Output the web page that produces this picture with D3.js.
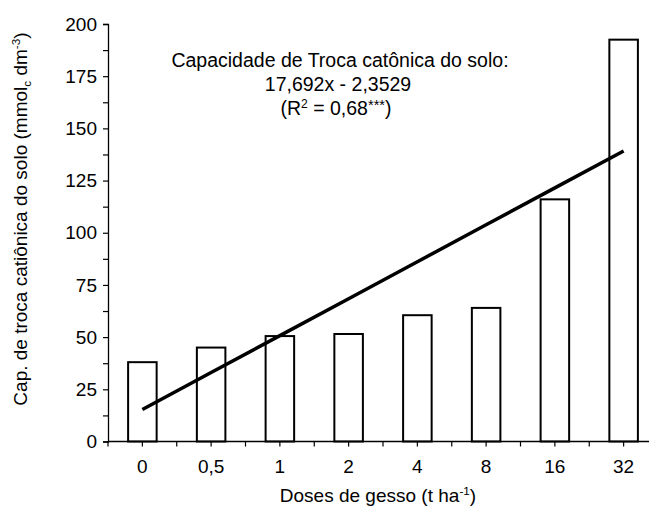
<!DOCTYPE html>
<html>
<head>
<meta charset="utf-8">
<script src="https://cdn.jsdelivr.net/npm/d3@7"></script>
<style>
  html, body { margin: 0; padding: 0; background: #fff; }
  svg { display: block; font-family: "Liberation Sans", Arial, sans-serif; }
</style>
</head>
<body>
<svg id="chart" width="649" height="510"></svg>
<script>
// ---- data ----
const categories = ["0", "0,5", "1", "2", "4", "8", "16", "32"];
const ctcValues = [38, 45, 50.5, 51.5, 60.5, 64, 116, 192.5];
const yTickValues = [0, 25, 50, 75, 100, 125, 150, 175, 200];
const trendSlope = 17.692;
const trendIntercept = -2.3529;
const annotationLines = ["Capacidade de Troca catônica do solo:", "17,692x - 2,3529"];

// ---- layout ----
const svg = d3.select("#chart");
const fontSize = 19;
const x0 = 108, x1 = 658, yTop = 24, yBottom = 441.5;

const x = d3.scaleBand().domain(categories).range([x0, x1])
  .paddingInner(0.585).paddingOuter(0.2925);
const y = d3.scaleLinear().domain([0, 200]).range([yBottom, yTop]);

// bars
svg.append("g").selectAll("rect").data(ctcValues).join("rect")
  .attr("x", (d, i) => x(categories[i]))
  .attr("y", d => y(d))
  .attr("width", x.bandwidth())
  .attr("height", d => y(0) - y(d))
  .attr("fill", "#fff").attr("stroke", "#000").attr("stroke-width", 2);

// trend line
const trendPts = categories.map((c, i) => [x(c) + x.bandwidth() / 2, y(trendSlope * (i + 1) + trendIntercept)]);
svg.append("path").attr("d", d3.line()(trendPts))
  .attr("fill", "none").attr("stroke", "#000").attr("stroke-width", 3.5);

// y axis
const yMinor = d3.range(0, 200.01, 12.5);
const yAxis = d3.axisLeft(y).tickValues(yMinor).tickSize(5).tickPadding(6)
  .tickFormat(d => yTickValues.includes(d) ? d3.format("d")(d) : "");
const gy = svg.append("g").attr("transform", `translate(${x0},0)`).call(yAxis);
gy.select(".domain").attr("stroke", "#000").attr("stroke-width", 1.3);
gy.selectAll(".tick line").attr("stroke", "#000").attr("stroke-width", 1.2);
gy.selectAll("text").attr("font-size", fontSize).attr("fill", "#000")
  .attr("font-family", "Liberation Sans, Arial, sans-serif");

// x axis (ticks at centers and at band boundaries)
const gx = svg.append("g").attr("transform", `translate(0,${yBottom})`);
gx.append("line").attr("x1", x0).attr("x2", x1).attr("y1", 0).attr("y2", 0)
  .attr("stroke", "#000").attr("stroke-width", 1.3);
const step = x.step();
const xTickPos = d3.range(0, categories.length * 2 + 1).map(k => x0 + k * step / 2);
gx.selectAll("line.tk").data(xTickPos).join("line").attr("class", "tk")
  .attr("x1", d => d).attr("x2", d => d).attr("y1", 0).attr("y2", 5)
  .attr("stroke", "#000").attr("stroke-width", 1.2);
gx.selectAll("text").data(categories).join("text")
  .attr("x", d => x(d) + x.bandwidth() / 2).attr("y", 31)
  .attr("text-anchor", "middle").attr("font-size", fontSize).attr("fill", "#000")
  .text(d => d);

// x title
const xt = svg.append("text").attr("x", 378).attr("y", 502)
  .attr("text-anchor", "middle").attr("font-size", fontSize).attr("fill", "#000");
xt.append("tspan").text("Doses de gesso (t ha");
xt.append("tspan").attr("dy", -7).attr("font-size", fontSize * 0.62).text("-1");
xt.append("tspan").attr("dy", 7).text(")");

// y title
const yt = svg.append("text").attr("transform", "translate(27,219) rotate(-90)")
  .attr("text-anchor", "middle").attr("font-size", fontSize).attr("fill", "#000");
yt.append("tspan").text("Cap. de troca catiônica do solo (mmol");
yt.append("tspan").attr("dy", 4).attr("font-size", fontSize * 0.62).text("c");
yt.append("tspan").attr("dy", -4).text(" dm");
yt.append("tspan").attr("dy", -7).attr("font-size", fontSize * 0.62).text("-3");
yt.append("tspan").attr("dy", 7).text(")");

// annotation
const ax = 340, aSize = 19.5;
svg.append("text").attr("x", ax).attr("y", 67).attr("text-anchor", "middle")
  .attr("font-size", aSize).attr("fill", "#000").text(annotationLines[0]);
svg.append("text").attr("x", ax - 2).attr("y", 91).attr("text-anchor", "middle")
  .attr("font-size", aSize).attr("fill", "#000").text(annotationLines[1]);
const r2 = svg.append("text").attr("x", ax - 4).attr("y", 115).attr("text-anchor", "middle")
  .attr("font-size", aSize).attr("fill", "#000");
r2.append("tspan").text("(R");
r2.append("tspan").attr("dy", -7).attr("font-size", aSize * 0.62).text("2");
r2.append("tspan").attr("dy", 7).text(" = 0,68");
r2.append("tspan").attr("dy", -5).attr("font-size", aSize * 0.75).text("***");
r2.append("tspan").attr("dy", 5).text(")");
</script>
</body>
</html>
